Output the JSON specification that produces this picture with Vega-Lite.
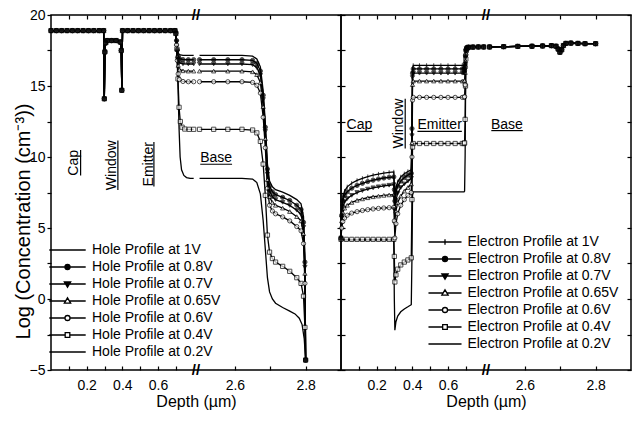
{
"$schema":"https://vega.github.io/schema/vega-lite/v6.json",
"padding":{"left":12,"top":7,"right":0,"bottom":0},
"spacing":0,
"bounds":"flush",
"config":{"font":"Liberation Sans","view":{"stroke":"black","strokeWidth":1.5},
"axis":{"domain":false,"grid":false,"labelFont":"Liberation Sans","labelFontSize":14,"labelColor":"black","tickColor":"black","tickWidth":1.2,"titleFont":"Liberation Sans","titleFontSize":16,"titleFontWeight":"normal","titleColor":"black","labelOverlap":false,"labelFlush":false}},
"datasets":{
"holes":[
{"bias":"1V","part":1,"depth":0,"logc":18.9},{"bias":"1V","part":1,"depth":0.03,"logc":18.9},{"bias":"1V","part":1,"depth":0.06,"logc":18.9},{"bias":"1V","part":1,"depth":0.09,"logc":18.9},{"bias":"1V","part":1,"depth":0.12,"logc":18.9},{"bias":"1V","part":1,"depth":0.15,"logc":18.9},{"bias":"1V","part":1,"depth":0.18,"logc":18.9},{"bias":"1V","part":1,"depth":0.21,"logc":18.9},{"bias":"1V","part":1,"depth":0.24,"logc":18.9},{"bias":"1V","part":1,"depth":0.27,"logc":18.9},{"bias":"1V","part":1,"depth":0.295,"logc":18.9},{"bias":"1V","part":1,"depth":0.299,"logc":14.1},{"bias":"1V","part":1,"depth":0.302,"logc":17.4},{"bias":"1V","part":1,"depth":0.307,"logc":18.05},{"bias":"1V","part":1,"depth":0.315,"logc":18.2},{"bias":"1V","part":1,"depth":0.34,"logc":18.2},{"bias":"1V","part":1,"depth":0.365,"logc":18.2},{"bias":"1V","part":1,"depth":0.388,"logc":18.1},{"bias":"1V","part":1,"depth":0.394,"logc":17.5},{"bias":"1V","part":1,"depth":0.397,"logc":14.7},{"bias":"1V","part":1,"depth":0.401,"logc":18.9},{"bias":"1V","part":1,"depth":0.43,"logc":18.9},{"bias":"1V","part":1,"depth":0.46,"logc":18.9},{"bias":"1V","part":1,"depth":0.49,"logc":18.9},{"bias":"1V","part":1,"depth":0.52,"logc":18.9},{"bias":"1V","part":1,"depth":0.55,"logc":18.9},{"bias":"1V","part":1,"depth":0.58,"logc":18.9},{"bias":"1V","part":1,"depth":0.61,"logc":18.9},{"bias":"1V","part":1,"depth":0.64,"logc":18.9},{"bias":"1V","part":1,"depth":0.67,"logc":18.9},{"bias":"1V","part":1,"depth":0.695,"logc":18.9},
{"bias":"1V","part":1,"depth":0.7,"logc":18.75},{"bias":"1V","part":1,"depth":0.704,"logc":18.3},{"bias":"1V","part":1,"depth":0.708,"logc":17.7},{"bias":"1V","part":1,"depth":0.713,"logc":17.35},{"bias":"1V","part":1,"depth":0.72,"logc":17.2},{"bias":"1V","part":1,"depth":0.74,"logc":17.15},{"bias":"1V","part":1,"depth":0.77,"logc":17.15},{"bias":"1V","part":1,"depth":0.8,"logc":17.15},
{"bias":"1V","part":2,"depth":2.5,"logc":17.15},{"bias":"1V","part":2,"depth":2.54,"logc":17.15},{"bias":"1V","part":2,"depth":2.58,"logc":17.15},{"bias":"1V","part":2,"depth":2.62,"logc":17.15},{"bias":"1V","part":2,"depth":2.65,"logc":17.1},{"bias":"1V","part":2,"depth":2.662,"logc":16.9},{"bias":"1V","part":2,"depth":2.672,"logc":16.35},{"bias":"1V","part":2,"depth":2.68,"logc":14.65},{"bias":"1V","part":2,"depth":2.686,"logc":12.4},{"bias":"1V","part":2,"depth":2.692,"logc":9.5},{"bias":"1V","part":2,"depth":2.698,"logc":8.3},{"bias":"1V","part":2,"depth":2.706,"logc":7.9},{"bias":"1V","part":2,"depth":2.715,"logc":7.7},{"bias":"1V","part":2,"depth":2.735,"logc":7.52},{"bias":"1V","part":2,"depth":2.755,"logc":7.3},{"bias":"1V","part":2,"depth":2.775,"logc":7.0},{"bias":"1V","part":2,"depth":2.787,"logc":6.7},{"bias":"1V","part":2,"depth":2.794,"logc":5.8},{"bias":"1V","part":2,"depth":2.798,"logc":3.0},{"bias":"1V","part":2,"depth":2.8,"logc":-4.3},
{"bias":"0.8V","part":1,"depth":0,"logc":18.9},{"bias":"0.8V","part":1,"depth":0.03,"logc":18.9},{"bias":"0.8V","part":1,"depth":0.06,"logc":18.9},{"bias":"0.8V","part":1,"depth":0.09,"logc":18.9},{"bias":"0.8V","part":1,"depth":0.12,"logc":18.9},{"bias":"0.8V","part":1,"depth":0.15,"logc":18.9},{"bias":"0.8V","part":1,"depth":0.18,"logc":18.9},{"bias":"0.8V","part":1,"depth":0.21,"logc":18.9},{"bias":"0.8V","part":1,"depth":0.24,"logc":18.9},{"bias":"0.8V","part":1,"depth":0.27,"logc":18.9},{"bias":"0.8V","part":1,"depth":0.295,"logc":18.9},{"bias":"0.8V","part":1,"depth":0.299,"logc":14.1},{"bias":"0.8V","part":1,"depth":0.302,"logc":17.4},{"bias":"0.8V","part":1,"depth":0.307,"logc":18.05},{"bias":"0.8V","part":1,"depth":0.315,"logc":18.2},{"bias":"0.8V","part":1,"depth":0.34,"logc":18.2},{"bias":"0.8V","part":1,"depth":0.365,"logc":18.2},{"bias":"0.8V","part":1,"depth":0.388,"logc":18.1},{"bias":"0.8V","part":1,"depth":0.394,"logc":17.5},{"bias":"0.8V","part":1,"depth":0.397,"logc":14.7},{"bias":"0.8V","part":1,"depth":0.401,"logc":18.9},{"bias":"0.8V","part":1,"depth":0.43,"logc":18.9},{"bias":"0.8V","part":1,"depth":0.46,"logc":18.9},{"bias":"0.8V","part":1,"depth":0.49,"logc":18.9},{"bias":"0.8V","part":1,"depth":0.52,"logc":18.9},{"bias":"0.8V","part":1,"depth":0.55,"logc":18.9},{"bias":"0.8V","part":1,"depth":0.58,"logc":18.9},{"bias":"0.8V","part":1,"depth":0.61,"logc":18.9},{"bias":"0.8V","part":1,"depth":0.64,"logc":18.9},{"bias":"0.8V","part":1,"depth":0.67,"logc":18.9},{"bias":"0.8V","part":1,"depth":0.695,"logc":18.9},
{"bias":"0.8V","part":1,"depth":0.7,"logc":18.75},{"bias":"0.8V","part":1,"depth":0.704,"logc":18.2},{"bias":"0.8V","part":1,"depth":0.708,"logc":17.55},{"bias":"0.8V","part":1,"depth":0.713,"logc":17.1},{"bias":"0.8V","part":1,"depth":0.72,"logc":16.92},{"bias":"0.8V","part":1,"depth":0.74,"logc":16.86},{"bias":"0.8V","part":1,"depth":0.77,"logc":16.85},{"bias":"0.8V","part":1,"depth":0.8,"logc":16.85},
{"bias":"0.8V","part":2,"depth":2.5,"logc":16.85},{"bias":"0.8V","part":2,"depth":2.54,"logc":16.85},{"bias":"0.8V","part":2,"depth":2.58,"logc":16.85},{"bias":"0.8V","part":2,"depth":2.62,"logc":16.85},{"bias":"0.8V","part":2,"depth":2.65,"logc":16.8},{"bias":"0.8V","part":2,"depth":2.662,"logc":16.6},{"bias":"0.8V","part":2,"depth":2.672,"logc":16.05},{"bias":"0.8V","part":2,"depth":2.68,"logc":14.35},{"bias":"0.8V","part":2,"depth":2.686,"logc":12.1},{"bias":"0.8V","part":2,"depth":2.692,"logc":9.15},{"bias":"0.8V","part":2,"depth":2.698,"logc":7.95},{"bias":"0.8V","part":2,"depth":2.706,"logc":7.55},{"bias":"0.8V","part":2,"depth":2.715,"logc":7.35},{"bias":"0.8V","part":2,"depth":2.735,"logc":7.16},{"bias":"0.8V","part":2,"depth":2.755,"logc":6.94},{"bias":"0.8V","part":2,"depth":2.775,"logc":6.6},{"bias":"0.8V","part":2,"depth":2.787,"logc":6.3},{"bias":"0.8V","part":2,"depth":2.794,"logc":5.4},{"bias":"0.8V","part":2,"depth":2.798,"logc":2.6},{"bias":"0.8V","part":2,"depth":2.8,"logc":-4.3},
{"bias":"0.7V","part":1,"depth":0,"logc":18.9},{"bias":"0.7V","part":1,"depth":0.03,"logc":18.9},{"bias":"0.7V","part":1,"depth":0.06,"logc":18.9},{"bias":"0.7V","part":1,"depth":0.09,"logc":18.9},{"bias":"0.7V","part":1,"depth":0.12,"logc":18.9},{"bias":"0.7V","part":1,"depth":0.15,"logc":18.9},{"bias":"0.7V","part":1,"depth":0.18,"logc":18.9},{"bias":"0.7V","part":1,"depth":0.21,"logc":18.9},{"bias":"0.7V","part":1,"depth":0.24,"logc":18.9},{"bias":"0.7V","part":1,"depth":0.27,"logc":18.9},{"bias":"0.7V","part":1,"depth":0.295,"logc":18.9},{"bias":"0.7V","part":1,"depth":0.299,"logc":14.1},{"bias":"0.7V","part":1,"depth":0.302,"logc":17.4},{"bias":"0.7V","part":1,"depth":0.307,"logc":18.05},{"bias":"0.7V","part":1,"depth":0.315,"logc":18.2},{"bias":"0.7V","part":1,"depth":0.34,"logc":18.2},{"bias":"0.7V","part":1,"depth":0.365,"logc":18.2},{"bias":"0.7V","part":1,"depth":0.388,"logc":18.1},{"bias":"0.7V","part":1,"depth":0.394,"logc":17.5},{"bias":"0.7V","part":1,"depth":0.397,"logc":14.7},{"bias":"0.7V","part":1,"depth":0.401,"logc":18.9},{"bias":"0.7V","part":1,"depth":0.43,"logc":18.9},{"bias":"0.7V","part":1,"depth":0.46,"logc":18.9},{"bias":"0.7V","part":1,"depth":0.49,"logc":18.9},{"bias":"0.7V","part":1,"depth":0.52,"logc":18.9},{"bias":"0.7V","part":1,"depth":0.55,"logc":18.9},{"bias":"0.7V","part":1,"depth":0.58,"logc":18.9},{"bias":"0.7V","part":1,"depth":0.61,"logc":18.9},{"bias":"0.7V","part":1,"depth":0.64,"logc":18.9},{"bias":"0.7V","part":1,"depth":0.67,"logc":18.9},{"bias":"0.7V","part":1,"depth":0.695,"logc":18.9},
{"bias":"0.7V","part":1,"depth":0.7,"logc":18.7},{"bias":"0.7V","part":1,"depth":0.704,"logc":18.1},{"bias":"0.7V","part":1,"depth":0.708,"logc":17.4},{"bias":"0.7V","part":1,"depth":0.713,"logc":16.85},{"bias":"0.7V","part":1,"depth":0.72,"logc":16.63},{"bias":"0.7V","part":1,"depth":0.74,"logc":16.56},{"bias":"0.7V","part":1,"depth":0.77,"logc":16.55},{"bias":"0.7V","part":1,"depth":0.8,"logc":16.55},
{"bias":"0.7V","part":2,"depth":2.5,"logc":16.55},{"bias":"0.7V","part":2,"depth":2.54,"logc":16.55},{"bias":"0.7V","part":2,"depth":2.58,"logc":16.55},{"bias":"0.7V","part":2,"depth":2.62,"logc":16.55},{"bias":"0.7V","part":2,"depth":2.65,"logc":16.5},{"bias":"0.7V","part":2,"depth":2.662,"logc":16.3},{"bias":"0.7V","part":2,"depth":2.672,"logc":15.75},{"bias":"0.7V","part":2,"depth":2.68,"logc":14.05},{"bias":"0.7V","part":2,"depth":2.686,"logc":11.8},{"bias":"0.7V","part":2,"depth":2.692,"logc":8.8},{"bias":"0.7V","part":2,"depth":2.698,"logc":7.6},{"bias":"0.7V","part":2,"depth":2.706,"logc":7.2},{"bias":"0.7V","part":2,"depth":2.715,"logc":7.0},{"bias":"0.7V","part":2,"depth":2.735,"logc":6.81},{"bias":"0.7V","part":2,"depth":2.755,"logc":6.59},{"bias":"0.7V","part":2,"depth":2.775,"logc":6.25},{"bias":"0.7V","part":2,"depth":2.787,"logc":5.95},{"bias":"0.7V","part":2,"depth":2.794,"logc":5.05},{"bias":"0.7V","part":2,"depth":2.798,"logc":2.25},{"bias":"0.7V","part":2,"depth":2.8,"logc":-4.3},
{"bias":"0.65V","part":1,"depth":0,"logc":18.9},{"bias":"0.65V","part":1,"depth":0.03,"logc":18.9},{"bias":"0.65V","part":1,"depth":0.06,"logc":18.9},{"bias":"0.65V","part":1,"depth":0.09,"logc":18.9},{"bias":"0.65V","part":1,"depth":0.12,"logc":18.9},{"bias":"0.65V","part":1,"depth":0.15,"logc":18.9},{"bias":"0.65V","part":1,"depth":0.18,"logc":18.9},{"bias":"0.65V","part":1,"depth":0.21,"logc":18.9},{"bias":"0.65V","part":1,"depth":0.24,"logc":18.9},{"bias":"0.65V","part":1,"depth":0.27,"logc":18.9},{"bias":"0.65V","part":1,"depth":0.295,"logc":18.9},{"bias":"0.65V","part":1,"depth":0.299,"logc":14.1},{"bias":"0.65V","part":1,"depth":0.302,"logc":17.4},{"bias":"0.65V","part":1,"depth":0.307,"logc":18.05},{"bias":"0.65V","part":1,"depth":0.315,"logc":18.2},{"bias":"0.65V","part":1,"depth":0.34,"logc":18.2},{"bias":"0.65V","part":1,"depth":0.365,"logc":18.2},{"bias":"0.65V","part":1,"depth":0.388,"logc":18.1},{"bias":"0.65V","part":1,"depth":0.394,"logc":17.5},{"bias":"0.65V","part":1,"depth":0.397,"logc":14.7},{"bias":"0.65V","part":1,"depth":0.401,"logc":18.9},{"bias":"0.65V","part":1,"depth":0.43,"logc":18.9},{"bias":"0.65V","part":1,"depth":0.46,"logc":18.9},{"bias":"0.65V","part":1,"depth":0.49,"logc":18.9},{"bias":"0.65V","part":1,"depth":0.52,"logc":18.9},{"bias":"0.65V","part":1,"depth":0.55,"logc":18.9},{"bias":"0.65V","part":1,"depth":0.58,"logc":18.9},{"bias":"0.65V","part":1,"depth":0.61,"logc":18.9},{"bias":"0.65V","part":1,"depth":0.64,"logc":18.9},{"bias":"0.65V","part":1,"depth":0.67,"logc":18.9},{"bias":"0.65V","part":1,"depth":0.695,"logc":18.9},
{"bias":"0.65V","part":1,"depth":0.7,"logc":18.7},{"bias":"0.65V","part":1,"depth":0.704,"logc":18.0},{"bias":"0.65V","part":1,"depth":0.708,"logc":17.1},{"bias":"0.65V","part":1,"depth":0.713,"logc":16.45},{"bias":"0.65V","part":1,"depth":0.72,"logc":16.17},{"bias":"0.65V","part":1,"depth":0.74,"logc":16.07},{"bias":"0.65V","part":1,"depth":0.77,"logc":16.05},{"bias":"0.65V","part":1,"depth":0.8,"logc":16.05},
{"bias":"0.65V","part":2,"depth":2.5,"logc":16.05},{"bias":"0.65V","part":2,"depth":2.54,"logc":16.05},{"bias":"0.65V","part":2,"depth":2.58,"logc":16.05},{"bias":"0.65V","part":2,"depth":2.62,"logc":16.05},{"bias":"0.65V","part":2,"depth":2.65,"logc":16.0},{"bias":"0.65V","part":2,"depth":2.662,"logc":15.8},{"bias":"0.65V","part":2,"depth":2.672,"logc":15.25},{"bias":"0.65V","part":2,"depth":2.68,"logc":13.55},{"bias":"0.65V","part":2,"depth":2.686,"logc":11.3},{"bias":"0.65V","part":2,"depth":2.692,"logc":8.4},{"bias":"0.65V","part":2,"depth":2.698,"logc":7.2},{"bias":"0.65V","part":2,"depth":2.706,"logc":6.8},{"bias":"0.65V","part":2,"depth":2.715,"logc":6.6},{"bias":"0.65V","part":2,"depth":2.735,"logc":6.4},{"bias":"0.65V","part":2,"depth":2.755,"logc":6.16},{"bias":"0.65V","part":2,"depth":2.775,"logc":5.8},{"bias":"0.65V","part":2,"depth":2.787,"logc":5.5},{"bias":"0.65V","part":2,"depth":2.794,"logc":4.6},{"bias":"0.65V","part":2,"depth":2.798,"logc":1.8},{"bias":"0.65V","part":2,"depth":2.8,"logc":-4.3},
{"bias":"0.6V","part":1,"depth":0,"logc":18.9},{"bias":"0.6V","part":1,"depth":0.03,"logc":18.9},{"bias":"0.6V","part":1,"depth":0.06,"logc":18.9},{"bias":"0.6V","part":1,"depth":0.09,"logc":18.9},{"bias":"0.6V","part":1,"depth":0.12,"logc":18.9},{"bias":"0.6V","part":1,"depth":0.15,"logc":18.9},{"bias":"0.6V","part":1,"depth":0.18,"logc":18.9},{"bias":"0.6V","part":1,"depth":0.21,"logc":18.9},{"bias":"0.6V","part":1,"depth":0.24,"logc":18.9},{"bias":"0.6V","part":1,"depth":0.27,"logc":18.9},{"bias":"0.6V","part":1,"depth":0.295,"logc":18.9},{"bias":"0.6V","part":1,"depth":0.299,"logc":14.1},{"bias":"0.6V","part":1,"depth":0.302,"logc":17.4},{"bias":"0.6V","part":1,"depth":0.307,"logc":18.05},{"bias":"0.6V","part":1,"depth":0.315,"logc":18.2},{"bias":"0.6V","part":1,"depth":0.34,"logc":18.2},{"bias":"0.6V","part":1,"depth":0.365,"logc":18.2},{"bias":"0.6V","part":1,"depth":0.388,"logc":18.1},{"bias":"0.6V","part":1,"depth":0.394,"logc":17.5},{"bias":"0.6V","part":1,"depth":0.397,"logc":14.7},{"bias":"0.6V","part":1,"depth":0.401,"logc":18.9},{"bias":"0.6V","part":1,"depth":0.43,"logc":18.9},{"bias":"0.6V","part":1,"depth":0.46,"logc":18.9},{"bias":"0.6V","part":1,"depth":0.49,"logc":18.9},{"bias":"0.6V","part":1,"depth":0.52,"logc":18.9},{"bias":"0.6V","part":1,"depth":0.55,"logc":18.9},{"bias":"0.6V","part":1,"depth":0.58,"logc":18.9},{"bias":"0.6V","part":1,"depth":0.61,"logc":18.9},{"bias":"0.6V","part":1,"depth":0.64,"logc":18.9},{"bias":"0.6V","part":1,"depth":0.67,"logc":18.9},{"bias":"0.6V","part":1,"depth":0.695,"logc":18.9},
{"bias":"0.6V","part":1,"depth":0.7,"logc":18.7},{"bias":"0.6V","part":1,"depth":0.704,"logc":17.9},{"bias":"0.6V","part":1,"depth":0.708,"logc":16.8},{"bias":"0.6V","part":1,"depth":0.713,"logc":15.85},{"bias":"0.6V","part":1,"depth":0.72,"logc":15.45},{"bias":"0.6V","part":1,"depth":0.74,"logc":15.32},{"bias":"0.6V","part":1,"depth":0.77,"logc":15.3},{"bias":"0.6V","part":1,"depth":0.8,"logc":15.3},
{"bias":"0.6V","part":2,"depth":2.5,"logc":15.3},{"bias":"0.6V","part":2,"depth":2.54,"logc":15.3},{"bias":"0.6V","part":2,"depth":2.58,"logc":15.3},{"bias":"0.6V","part":2,"depth":2.62,"logc":15.3},{"bias":"0.6V","part":2,"depth":2.65,"logc":15.25},{"bias":"0.6V","part":2,"depth":2.662,"logc":15.05},{"bias":"0.6V","part":2,"depth":2.672,"logc":14.5},{"bias":"0.6V","part":2,"depth":2.68,"logc":12.8},{"bias":"0.6V","part":2,"depth":2.686,"logc":10.65},{"bias":"0.6V","part":2,"depth":2.692,"logc":7.8},{"bias":"0.6V","part":2,"depth":2.698,"logc":6.6},{"bias":"0.6V","part":2,"depth":2.706,"logc":6.2},{"bias":"0.6V","part":2,"depth":2.715,"logc":6.0},{"bias":"0.6V","part":2,"depth":2.735,"logc":5.78},{"bias":"0.6V","part":2,"depth":2.755,"logc":5.5},{"bias":"0.6V","part":2,"depth":2.775,"logc":5.1},{"bias":"0.6V","part":2,"depth":2.787,"logc":4.8},{"bias":"0.6V","part":2,"depth":2.794,"logc":3.9},{"bias":"0.6V","part":2,"depth":2.798,"logc":1.1},{"bias":"0.6V","part":2,"depth":2.8,"logc":-4.3},
{"bias":"0.4V","part":1,"depth":0,"logc":18.9},{"bias":"0.4V","part":1,"depth":0.03,"logc":18.9},{"bias":"0.4V","part":1,"depth":0.06,"logc":18.9},{"bias":"0.4V","part":1,"depth":0.09,"logc":18.9},{"bias":"0.4V","part":1,"depth":0.12,"logc":18.9},{"bias":"0.4V","part":1,"depth":0.15,"logc":18.9},{"bias":"0.4V","part":1,"depth":0.18,"logc":18.9},{"bias":"0.4V","part":1,"depth":0.21,"logc":18.9},{"bias":"0.4V","part":1,"depth":0.24,"logc":18.9},{"bias":"0.4V","part":1,"depth":0.27,"logc":18.9},{"bias":"0.4V","part":1,"depth":0.295,"logc":18.9},{"bias":"0.4V","part":1,"depth":0.299,"logc":14.1},{"bias":"0.4V","part":1,"depth":0.302,"logc":17.4},{"bias":"0.4V","part":1,"depth":0.307,"logc":18.05},{"bias":"0.4V","part":1,"depth":0.315,"logc":18.2},{"bias":"0.4V","part":1,"depth":0.34,"logc":18.2},{"bias":"0.4V","part":1,"depth":0.365,"logc":18.2},{"bias":"0.4V","part":1,"depth":0.388,"logc":18.1},{"bias":"0.4V","part":1,"depth":0.394,"logc":17.5},{"bias":"0.4V","part":1,"depth":0.397,"logc":14.7},{"bias":"0.4V","part":1,"depth":0.401,"logc":18.9},{"bias":"0.4V","part":1,"depth":0.43,"logc":18.9},{"bias":"0.4V","part":1,"depth":0.46,"logc":18.9},{"bias":"0.4V","part":1,"depth":0.49,"logc":18.9},{"bias":"0.4V","part":1,"depth":0.52,"logc":18.9},{"bias":"0.4V","part":1,"depth":0.55,"logc":18.9},{"bias":"0.4V","part":1,"depth":0.58,"logc":18.9},{"bias":"0.4V","part":1,"depth":0.61,"logc":18.9},{"bias":"0.4V","part":1,"depth":0.64,"logc":18.9},{"bias":"0.4V","part":1,"depth":0.67,"logc":18.9},{"bias":"0.4V","part":1,"depth":0.695,"logc":18.9},
{"bias":"0.4V","part":1,"depth":0.7,"logc":18.7},{"bias":"0.4V","part":1,"depth":0.706,"logc":17.6},{"bias":"0.4V","part":1,"depth":0.712,"logc":15.5},{"bias":"0.4V","part":1,"depth":0.718,"logc":13.5},{"bias":"0.4V","part":1,"depth":0.725,"logc":12.5},{"bias":"0.4V","part":1,"depth":0.735,"logc":12.1},{"bias":"0.4V","part":1,"depth":0.75,"logc":11.97},{"bias":"0.4V","part":1,"depth":0.775,"logc":11.95},{"bias":"0.4V","part":1,"depth":0.8,"logc":11.95},
{"bias":"0.4V","part":2,"depth":2.5,"logc":11.95},{"bias":"0.4V","part":2,"depth":2.54,"logc":11.95},{"bias":"0.4V","part":2,"depth":2.58,"logc":11.95},{"bias":"0.4V","part":2,"depth":2.62,"logc":11.95},{"bias":"0.4V","part":2,"depth":2.65,"logc":11.9},{"bias":"0.4V","part":2,"depth":2.662,"logc":11.7},{"bias":"0.4V","part":2,"depth":2.672,"logc":11.1},{"bias":"0.4V","part":2,"depth":2.68,"logc":9.5},{"bias":"0.4V","part":2,"depth":2.686,"logc":7.3},{"bias":"0.4V","part":2,"depth":2.692,"logc":4.5},{"bias":"0.4V","part":2,"depth":2.698,"logc":3.3},{"bias":"0.4V","part":2,"depth":2.706,"logc":2.85},{"bias":"0.4V","part":2,"depth":2.715,"logc":2.6},{"bias":"0.4V","part":2,"depth":2.735,"logc":2.3},{"bias":"0.4V","part":2,"depth":2.755,"logc":1.95},{"bias":"0.4V","part":2,"depth":2.775,"logc":1.5},{"bias":"0.4V","part":2,"depth":2.787,"logc":1.1},{"bias":"0.4V","part":2,"depth":2.794,"logc":0.2},{"bias":"0.4V","part":2,"depth":2.798,"logc":-2.0},{"bias":"0.4V","part":2,"depth":2.8,"logc":-4.3},
{"bias":"0.2V","part":1,"depth":0,"logc":18.9},{"bias":"0.2V","part":1,"depth":0.03,"logc":18.9},{"bias":"0.2V","part":1,"depth":0.06,"logc":18.9},{"bias":"0.2V","part":1,"depth":0.09,"logc":18.9},{"bias":"0.2V","part":1,"depth":0.12,"logc":18.9},{"bias":"0.2V","part":1,"depth":0.15,"logc":18.9},{"bias":"0.2V","part":1,"depth":0.18,"logc":18.9},{"bias":"0.2V","part":1,"depth":0.21,"logc":18.9},{"bias":"0.2V","part":1,"depth":0.24,"logc":18.9},{"bias":"0.2V","part":1,"depth":0.27,"logc":18.9},{"bias":"0.2V","part":1,"depth":0.295,"logc":18.9},{"bias":"0.2V","part":1,"depth":0.299,"logc":14.1},{"bias":"0.2V","part":1,"depth":0.302,"logc":17.4},{"bias":"0.2V","part":1,"depth":0.307,"logc":18.05},{"bias":"0.2V","part":1,"depth":0.315,"logc":18.2},{"bias":"0.2V","part":1,"depth":0.34,"logc":18.2},{"bias":"0.2V","part":1,"depth":0.365,"logc":18.2},{"bias":"0.2V","part":1,"depth":0.388,"logc":18.1},{"bias":"0.2V","part":1,"depth":0.394,"logc":17.5},{"bias":"0.2V","part":1,"depth":0.397,"logc":14.7},{"bias":"0.2V","part":1,"depth":0.401,"logc":18.9},{"bias":"0.2V","part":1,"depth":0.43,"logc":18.9},{"bias":"0.2V","part":1,"depth":0.46,"logc":18.9},{"bias":"0.2V","part":1,"depth":0.49,"logc":18.9},{"bias":"0.2V","part":1,"depth":0.52,"logc":18.9},{"bias":"0.2V","part":1,"depth":0.55,"logc":18.9},{"bias":"0.2V","part":1,"depth":0.58,"logc":18.9},{"bias":"0.2V","part":1,"depth":0.61,"logc":18.9},{"bias":"0.2V","part":1,"depth":0.64,"logc":18.9},{"bias":"0.2V","part":1,"depth":0.67,"logc":18.9},{"bias":"0.2V","part":1,"depth":0.695,"logc":18.9},
{"bias":"0.2V","part":1,"depth":0.7,"logc":18.7},{"bias":"0.2V","part":1,"depth":0.706,"logc":17.5},{"bias":"0.2V","part":1,"depth":0.712,"logc":15.0},{"bias":"0.2V","part":1,"depth":0.718,"logc":12.0},{"bias":"0.2V","part":1,"depth":0.724,"logc":10.0},{"bias":"0.2V","part":1,"depth":0.732,"logc":9.1},{"bias":"0.2V","part":1,"depth":0.745,"logc":8.7},{"bias":"0.2V","part":1,"depth":0.76,"logc":8.55},{"bias":"0.2V","part":1,"depth":0.78,"logc":8.5},{"bias":"0.2V","part":1,"depth":0.8,"logc":8.5},
{"bias":"0.2V","part":2,"depth":2.5,"logc":8.5},{"bias":"0.2V","part":2,"depth":2.54,"logc":8.5},{"bias":"0.2V","part":2,"depth":2.58,"logc":8.5},{"bias":"0.2V","part":2,"depth":2.62,"logc":8.5},{"bias":"0.2V","part":2,"depth":2.65,"logc":8.45},{"bias":"0.2V","part":2,"depth":2.662,"logc":8.2},{"bias":"0.2V","part":2,"depth":2.672,"logc":7.4},{"bias":"0.2V","part":2,"depth":2.68,"logc":5.5},{"bias":"0.2V","part":2,"depth":2.686,"logc":3.5},{"bias":"0.2V","part":2,"depth":2.692,"logc":1.5},{"bias":"0.2V","part":2,"depth":2.698,"logc":0.5},{"bias":"0.2V","part":2,"depth":2.706,"logc":0.0},{"bias":"0.2V","part":2,"depth":2.715,"logc":-0.3},{"bias":"0.2V","part":2,"depth":2.735,"logc":-0.6},{"bias":"0.2V","part":2,"depth":2.755,"logc":-0.85},{"bias":"0.2V","part":2,"depth":2.77,"logc":-1.05},{"bias":"0.2V","part":2,"depth":2.782,"logc":-1.35},{"bias":"0.2V","part":2,"depth":2.79,"logc":-1.8},{"bias":"0.2V","part":2,"depth":2.796,"logc":-2.8},{"bias":"0.2V","part":2,"depth":2.8,"logc":-4.3}
],
"electrons":[
{"bias":"1V","part":1,"depth":0,"logc":4.3},{"bias":"1V","part":1,"depth":0.004,"logc":6.0},{"bias":"1V","part":1,"depth":0.01,"logc":7.1},{"bias":"1V","part":1,"depth":0.02,"logc":7.6},{"bias":"1V","part":1,"depth":0.035,"logc":7.9},{"bias":"1V","part":1,"depth":0.06,"logc":8.15},{"bias":"1V","part":1,"depth":0.09,"logc":8.35},{"bias":"1V","part":1,"depth":0.12,"logc":8.5},{"bias":"1V","part":1,"depth":0.15,"logc":8.62},{"bias":"1V","part":1,"depth":0.18,"logc":8.72},{"bias":"1V","part":1,"depth":0.21,"logc":8.8},{"bias":"1V","part":1,"depth":0.24,"logc":8.87},{"bias":"1V","part":1,"depth":0.27,"logc":8.92},{"bias":"1V","part":1,"depth":0.296,"logc":8.95},
{"bias":"1V","part":1,"depth":0.299,"logc":8.0},{"bias":"1V","part":1,"depth":0.302,"logc":7.3},{"bias":"1V","part":1,"depth":0.308,"logc":7.8},{"bias":"1V","part":1,"depth":0.318,"logc":8.25},{"bias":"1V","part":1,"depth":0.335,"logc":8.6},{"bias":"1V","part":1,"depth":0.355,"logc":8.82},{"bias":"1V","part":1,"depth":0.375,"logc":8.98},{"bias":"1V","part":1,"depth":0.394,"logc":9.1},{"bias":"1V","part":1,"depth":0.398,"logc":12.0},{"bias":"1V","part":1,"depth":0.401,"logc":16.2},{"bias":"1V","part":1,"depth":0.405,"logc":16.45},
{"bias":"1V","part":1,"depth":0.44,"logc":16.45},{"bias":"1V","part":1,"depth":0.48,"logc":16.45},{"bias":"1V","part":1,"depth":0.52,"logc":16.45},{"bias":"1V","part":1,"depth":0.56,"logc":16.45},{"bias":"1V","part":1,"depth":0.6,"logc":16.45},{"bias":"1V","part":1,"depth":0.64,"logc":16.45},{"bias":"1V","part":1,"depth":0.68,"logc":16.45},{"bias":"1V","part":1,"depth":0.69,"logc":16.45},
{"bias":"1V","part":1,"depth":0.693,"logc":16.5},{"bias":"1V","part":1,"depth":0.696,"logc":16.77},{"bias":"1V","part":1,"depth":0.698,"logc":17.22},{"bias":"1V","part":1,"depth":0.7,"logc":17.6},{"bias":"1V","part":1,"depth":0.703,"logc":17.68},{"bias":"1V","part":1,"depth":0.708,"logc":17.71},{"bias":"1V","part":1,"depth":0.715,"logc":17.73},{"bias":"1V","part":1,"depth":0.74,"logc":17.74},{"bias":"1V","part":1,"depth":0.77,"logc":17.75},{"bias":"1V","part":1,"depth":0.8,"logc":17.75},
{"bias":"1V","part":2,"depth":2.5,"logc":17.75},{"bias":"1V","part":2,"depth":2.54,"logc":17.77},{"bias":"1V","part":2,"depth":2.58,"logc":17.79},{"bias":"1V","part":2,"depth":2.62,"logc":17.8},{"bias":"1V","part":2,"depth":2.65,"logc":17.82},{"bias":"1V","part":2,"depth":2.675,"logc":17.84},{"bias":"1V","part":2,"depth":2.688,"logc":17.8},{"bias":"1V","part":2,"depth":2.694,"logc":17.6},{"bias":"1V","part":2,"depth":2.699,"logc":17.38},{"bias":"1V","part":2,"depth":2.704,"logc":17.55},{"bias":"1V","part":2,"depth":2.709,"logc":17.85},{"bias":"1V","part":2,"depth":2.716,"logc":18.0},{"bias":"1V","part":2,"depth":2.73,"logc":18.02},{"bias":"1V","part":2,"depth":2.75,"logc":18.0},{"bias":"1V","part":2,"depth":2.77,"logc":17.98},{"bias":"1V","part":2,"depth":2.8,"logc":17.98},
{"bias":"0.8V","part":1,"depth":0,"logc":4.3},{"bias":"0.8V","part":1,"depth":0.004,"logc":5.9},{"bias":"0.8V","part":1,"depth":0.01,"logc":6.9},{"bias":"0.8V","part":1,"depth":0.02,"logc":7.3},{"bias":"0.8V","part":1,"depth":0.035,"logc":7.55},{"bias":"0.8V","part":1,"depth":0.06,"logc":7.8},{"bias":"0.8V","part":1,"depth":0.09,"logc":8.0},{"bias":"0.8V","part":1,"depth":0.12,"logc":8.15},{"bias":"0.8V","part":1,"depth":0.15,"logc":8.27},{"bias":"0.8V","part":1,"depth":0.18,"logc":8.37},{"bias":"0.8V","part":1,"depth":0.21,"logc":8.45},{"bias":"0.8V","part":1,"depth":0.24,"logc":8.52},{"bias":"0.8V","part":1,"depth":0.27,"logc":8.57},{"bias":"0.8V","part":1,"depth":0.296,"logc":8.6},
{"bias":"0.8V","part":1,"depth":0.299,"logc":7.7},{"bias":"0.8V","part":1,"depth":0.302,"logc":6.9},{"bias":"0.8V","part":1,"depth":0.308,"logc":7.5},{"bias":"0.8V","part":1,"depth":0.318,"logc":7.95},{"bias":"0.8V","part":1,"depth":0.335,"logc":8.3},{"bias":"0.8V","part":1,"depth":0.355,"logc":8.55},{"bias":"0.8V","part":1,"depth":0.375,"logc":8.72},{"bias":"0.8V","part":1,"depth":0.394,"logc":8.85},{"bias":"0.8V","part":1,"depth":0.398,"logc":12.0},{"bias":"0.8V","part":1,"depth":0.401,"logc":15.9},{"bias":"0.8V","part":1,"depth":0.405,"logc":16.2},
{"bias":"0.8V","part":1,"depth":0.44,"logc":16.2},{"bias":"0.8V","part":1,"depth":0.48,"logc":16.2},{"bias":"0.8V","part":1,"depth":0.52,"logc":16.2},{"bias":"0.8V","part":1,"depth":0.56,"logc":16.2},{"bias":"0.8V","part":1,"depth":0.6,"logc":16.2},{"bias":"0.8V","part":1,"depth":0.64,"logc":16.2},{"bias":"0.8V","part":1,"depth":0.68,"logc":16.2},{"bias":"0.8V","part":1,"depth":0.69,"logc":16.2},
{"bias":"0.8V","part":1,"depth":0.693,"logc":16.25},{"bias":"0.8V","part":1,"depth":0.696,"logc":16.58},{"bias":"0.8V","part":1,"depth":0.698,"logc":17.12},{"bias":"0.8V","part":1,"depth":0.7,"logc":17.5},{"bias":"0.8V","part":1,"depth":0.703,"logc":17.65},{"bias":"0.8V","part":1,"depth":0.708,"logc":17.7},{"bias":"0.8V","part":1,"depth":0.715,"logc":17.73},{"bias":"0.8V","part":1,"depth":0.74,"logc":17.74},{"bias":"0.8V","part":1,"depth":0.77,"logc":17.75},{"bias":"0.8V","part":1,"depth":0.8,"logc":17.75},
{"bias":"0.8V","part":2,"depth":2.5,"logc":17.75},{"bias":"0.8V","part":2,"depth":2.54,"logc":17.77},{"bias":"0.8V","part":2,"depth":2.58,"logc":17.79},{"bias":"0.8V","part":2,"depth":2.62,"logc":17.8},{"bias":"0.8V","part":2,"depth":2.65,"logc":17.82},{"bias":"0.8V","part":2,"depth":2.675,"logc":17.84},{"bias":"0.8V","part":2,"depth":2.688,"logc":17.8},{"bias":"0.8V","part":2,"depth":2.694,"logc":17.6},{"bias":"0.8V","part":2,"depth":2.699,"logc":17.38},{"bias":"0.8V","part":2,"depth":2.704,"logc":17.55},{"bias":"0.8V","part":2,"depth":2.709,"logc":17.85},{"bias":"0.8V","part":2,"depth":2.716,"logc":18.0},{"bias":"0.8V","part":2,"depth":2.73,"logc":18.02},{"bias":"0.8V","part":2,"depth":2.75,"logc":18.0},{"bias":"0.8V","part":2,"depth":2.77,"logc":17.98},{"bias":"0.8V","part":2,"depth":2.8,"logc":17.98},
{"bias":"0.7V","part":1,"depth":0,"logc":4.3},{"bias":"0.7V","part":1,"depth":0.004,"logc":5.7},{"bias":"0.7V","part":1,"depth":0.01,"logc":6.5},{"bias":"0.7V","part":1,"depth":0.02,"logc":6.85},{"bias":"0.7V","part":1,"depth":0.035,"logc":7.07},{"bias":"0.7V","part":1,"depth":0.06,"logc":7.3},{"bias":"0.7V","part":1,"depth":0.09,"logc":7.5},{"bias":"0.7V","part":1,"depth":0.12,"logc":7.63},{"bias":"0.7V","part":1,"depth":0.15,"logc":7.74},{"bias":"0.7V","part":1,"depth":0.18,"logc":7.83},{"bias":"0.7V","part":1,"depth":0.21,"logc":7.9},{"bias":"0.7V","part":1,"depth":0.24,"logc":7.96},{"bias":"0.7V","part":1,"depth":0.27,"logc":8.01},{"bias":"0.7V","part":1,"depth":0.296,"logc":8.05},
{"bias":"0.7V","part":1,"depth":0.299,"logc":7.2},{"bias":"0.7V","part":1,"depth":0.302,"logc":6.3},{"bias":"0.7V","part":1,"depth":0.308,"logc":6.95},{"bias":"0.7V","part":1,"depth":0.318,"logc":7.45},{"bias":"0.7V","part":1,"depth":0.335,"logc":7.85},{"bias":"0.7V","part":1,"depth":0.355,"logc":8.1},{"bias":"0.7V","part":1,"depth":0.375,"logc":8.3},{"bias":"0.7V","part":1,"depth":0.394,"logc":8.5},{"bias":"0.7V","part":1,"depth":0.398,"logc":11.5},{"bias":"0.7V","part":1,"depth":0.401,"logc":15.6},{"bias":"0.7V","part":1,"depth":0.405,"logc":15.9},
{"bias":"0.7V","part":1,"depth":0.44,"logc":15.9},{"bias":"0.7V","part":1,"depth":0.48,"logc":15.9},{"bias":"0.7V","part":1,"depth":0.52,"logc":15.9},{"bias":"0.7V","part":1,"depth":0.56,"logc":15.9},{"bias":"0.7V","part":1,"depth":0.6,"logc":15.9},{"bias":"0.7V","part":1,"depth":0.64,"logc":15.9},{"bias":"0.7V","part":1,"depth":0.68,"logc":15.9},{"bias":"0.7V","part":1,"depth":0.69,"logc":15.9},
{"bias":"0.7V","part":1,"depth":0.693,"logc":15.95},{"bias":"0.7V","part":1,"depth":0.696,"logc":16.36},{"bias":"0.7V","part":1,"depth":0.698,"logc":17.0},{"bias":"0.7V","part":1,"depth":0.7,"logc":17.45},{"bias":"0.7V","part":1,"depth":0.703,"logc":17.63},{"bias":"0.7V","part":1,"depth":0.708,"logc":17.7},{"bias":"0.7V","part":1,"depth":0.715,"logc":17.73},{"bias":"0.7V","part":1,"depth":0.74,"logc":17.74},{"bias":"0.7V","part":1,"depth":0.77,"logc":17.75},{"bias":"0.7V","part":1,"depth":0.8,"logc":17.75},
{"bias":"0.7V","part":2,"depth":2.5,"logc":17.75},{"bias":"0.7V","part":2,"depth":2.54,"logc":17.77},{"bias":"0.7V","part":2,"depth":2.58,"logc":17.79},{"bias":"0.7V","part":2,"depth":2.62,"logc":17.8},{"bias":"0.7V","part":2,"depth":2.65,"logc":17.82},{"bias":"0.7V","part":2,"depth":2.675,"logc":17.84},{"bias":"0.7V","part":2,"depth":2.688,"logc":17.8},{"bias":"0.7V","part":2,"depth":2.694,"logc":17.6},{"bias":"0.7V","part":2,"depth":2.699,"logc":17.38},{"bias":"0.7V","part":2,"depth":2.704,"logc":17.55},{"bias":"0.7V","part":2,"depth":2.709,"logc":17.85},{"bias":"0.7V","part":2,"depth":2.716,"logc":18.0},{"bias":"0.7V","part":2,"depth":2.73,"logc":18.02},{"bias":"0.7V","part":2,"depth":2.75,"logc":18.0},{"bias":"0.7V","part":2,"depth":2.77,"logc":17.98},{"bias":"0.7V","part":2,"depth":2.8,"logc":17.98},
{"bias":"0.65V","part":1,"depth":0,"logc":4.3},{"bias":"0.65V","part":1,"depth":0.004,"logc":5.5},{"bias":"0.65V","part":1,"depth":0.01,"logc":6.1},{"bias":"0.65V","part":1,"depth":0.02,"logc":6.4},{"bias":"0.65V","part":1,"depth":0.035,"logc":6.6},{"bias":"0.65V","part":1,"depth":0.06,"logc":6.8},{"bias":"0.65V","part":1,"depth":0.09,"logc":6.95},{"bias":"0.65V","part":1,"depth":0.12,"logc":7.05},{"bias":"0.65V","part":1,"depth":0.15,"logc":7.13},{"bias":"0.65V","part":1,"depth":0.18,"logc":7.2},{"bias":"0.65V","part":1,"depth":0.21,"logc":7.25},{"bias":"0.65V","part":1,"depth":0.24,"logc":7.3},{"bias":"0.65V","part":1,"depth":0.27,"logc":7.33},{"bias":"0.65V","part":1,"depth":0.296,"logc":7.35},
{"bias":"0.65V","part":1,"depth":0.299,"logc":6.5},{"bias":"0.65V","part":1,"depth":0.302,"logc":5.5},{"bias":"0.65V","part":1,"depth":0.308,"logc":6.2},{"bias":"0.65V","part":1,"depth":0.318,"logc":6.8},{"bias":"0.65V","part":1,"depth":0.335,"logc":7.25},{"bias":"0.65V","part":1,"depth":0.355,"logc":7.6},{"bias":"0.65V","part":1,"depth":0.375,"logc":7.85},{"bias":"0.65V","part":1,"depth":0.394,"logc":8.1},{"bias":"0.65V","part":1,"depth":0.398,"logc":11.0},{"bias":"0.65V","part":1,"depth":0.401,"logc":15.1},{"bias":"0.65V","part":1,"depth":0.405,"logc":15.35},
{"bias":"0.65V","part":1,"depth":0.44,"logc":15.35},{"bias":"0.65V","part":1,"depth":0.48,"logc":15.35},{"bias":"0.65V","part":1,"depth":0.52,"logc":15.35},{"bias":"0.65V","part":1,"depth":0.56,"logc":15.35},{"bias":"0.65V","part":1,"depth":0.6,"logc":15.35},{"bias":"0.65V","part":1,"depth":0.64,"logc":15.35},{"bias":"0.65V","part":1,"depth":0.68,"logc":15.35},{"bias":"0.65V","part":1,"depth":0.69,"logc":15.35},
{"bias":"0.65V","part":1,"depth":0.693,"logc":15.4},{"bias":"0.65V","part":1,"depth":0.696,"logc":15.95},{"bias":"0.65V","part":1,"depth":0.698,"logc":16.78},{"bias":"0.65V","part":1,"depth":0.7,"logc":17.35},{"bias":"0.65V","part":1,"depth":0.703,"logc":17.6},{"bias":"0.65V","part":1,"depth":0.708,"logc":17.7},{"bias":"0.65V","part":1,"depth":0.715,"logc":17.73},{"bias":"0.65V","part":1,"depth":0.74,"logc":17.74},{"bias":"0.65V","part":1,"depth":0.77,"logc":17.75},{"bias":"0.65V","part":1,"depth":0.8,"logc":17.75},
{"bias":"0.65V","part":2,"depth":2.5,"logc":17.75},{"bias":"0.65V","part":2,"depth":2.54,"logc":17.77},{"bias":"0.65V","part":2,"depth":2.58,"logc":17.79},{"bias":"0.65V","part":2,"depth":2.62,"logc":17.8},{"bias":"0.65V","part":2,"depth":2.65,"logc":17.82},{"bias":"0.65V","part":2,"depth":2.675,"logc":17.84},{"bias":"0.65V","part":2,"depth":2.688,"logc":17.8},{"bias":"0.65V","part":2,"depth":2.694,"logc":17.6},{"bias":"0.65V","part":2,"depth":2.699,"logc":17.38},{"bias":"0.65V","part":2,"depth":2.704,"logc":17.55},{"bias":"0.65V","part":2,"depth":2.709,"logc":17.85},{"bias":"0.65V","part":2,"depth":2.716,"logc":18.0},{"bias":"0.65V","part":2,"depth":2.73,"logc":18.02},{"bias":"0.65V","part":2,"depth":2.75,"logc":18.0},{"bias":"0.65V","part":2,"depth":2.77,"logc":17.98},{"bias":"0.65V","part":2,"depth":2.8,"logc":17.98},
{"bias":"0.6V","part":1,"depth":0,"logc":4.25},{"bias":"0.6V","part":1,"depth":0.004,"logc":5.0},{"bias":"0.6V","part":1,"depth":0.01,"logc":5.45},{"bias":"0.6V","part":1,"depth":0.02,"logc":5.7},{"bias":"0.6V","part":1,"depth":0.035,"logc":5.9},{"bias":"0.6V","part":1,"depth":0.06,"logc":6.05},{"bias":"0.6V","part":1,"depth":0.09,"logc":6.15},{"bias":"0.6V","part":1,"depth":0.12,"logc":6.23},{"bias":"0.6V","part":1,"depth":0.15,"logc":6.29},{"bias":"0.6V","part":1,"depth":0.18,"logc":6.34},{"bias":"0.6V","part":1,"depth":0.21,"logc":6.38},{"bias":"0.6V","part":1,"depth":0.24,"logc":6.41},{"bias":"0.6V","part":1,"depth":0.27,"logc":6.43},{"bias":"0.6V","part":1,"depth":0.296,"logc":6.45},
{"bias":"0.6V","part":1,"depth":0.299,"logc":5.5},{"bias":"0.6V","part":1,"depth":0.302,"logc":4.3},{"bias":"0.6V","part":1,"depth":0.308,"logc":5.3},{"bias":"0.6V","part":1,"depth":0.318,"logc":6.0},{"bias":"0.6V","part":1,"depth":0.335,"logc":6.6},{"bias":"0.6V","part":1,"depth":0.355,"logc":7.0},{"bias":"0.6V","part":1,"depth":0.375,"logc":7.3},{"bias":"0.6V","part":1,"depth":0.394,"logc":7.5},{"bias":"0.6V","part":1,"depth":0.398,"logc":10.0},{"bias":"0.6V","part":1,"depth":0.401,"logc":14.0},{"bias":"0.6V","part":1,"depth":0.405,"logc":14.2},
{"bias":"0.6V","part":1,"depth":0.44,"logc":14.2},{"bias":"0.6V","part":1,"depth":0.48,"logc":14.2},{"bias":"0.6V","part":1,"depth":0.52,"logc":14.2},{"bias":"0.6V","part":1,"depth":0.56,"logc":14.2},{"bias":"0.6V","part":1,"depth":0.6,"logc":14.2},{"bias":"0.6V","part":1,"depth":0.64,"logc":14.2},{"bias":"0.6V","part":1,"depth":0.68,"logc":14.2},{"bias":"0.6V","part":1,"depth":0.69,"logc":14.2},
{"bias":"0.6V","part":1,"depth":0.693,"logc":14.25},{"bias":"0.6V","part":1,"depth":0.696,"logc":15.08},{"bias":"0.6V","part":1,"depth":0.698,"logc":16.32},{"bias":"0.6V","part":1,"depth":0.7,"logc":17.2},{"bias":"0.6V","part":1,"depth":0.703,"logc":17.55},{"bias":"0.6V","part":1,"depth":0.708,"logc":17.68},{"bias":"0.6V","part":1,"depth":0.715,"logc":17.73},{"bias":"0.6V","part":1,"depth":0.74,"logc":17.74},{"bias":"0.6V","part":1,"depth":0.77,"logc":17.75},{"bias":"0.6V","part":1,"depth":0.8,"logc":17.75},
{"bias":"0.6V","part":2,"depth":2.5,"logc":17.75},{"bias":"0.6V","part":2,"depth":2.54,"logc":17.77},{"bias":"0.6V","part":2,"depth":2.58,"logc":17.79},{"bias":"0.6V","part":2,"depth":2.62,"logc":17.8},{"bias":"0.6V","part":2,"depth":2.65,"logc":17.82},{"bias":"0.6V","part":2,"depth":2.675,"logc":17.84},{"bias":"0.6V","part":2,"depth":2.688,"logc":17.8},{"bias":"0.6V","part":2,"depth":2.694,"logc":17.6},{"bias":"0.6V","part":2,"depth":2.699,"logc":17.38},{"bias":"0.6V","part":2,"depth":2.704,"logc":17.55},{"bias":"0.6V","part":2,"depth":2.709,"logc":17.85},{"bias":"0.6V","part":2,"depth":2.716,"logc":18.0},{"bias":"0.6V","part":2,"depth":2.73,"logc":18.02},{"bias":"0.6V","part":2,"depth":2.75,"logc":18.0},{"bias":"0.6V","part":2,"depth":2.77,"logc":17.98},{"bias":"0.6V","part":2,"depth":2.8,"logc":17.98},
{"bias":"0.4V","part":1,"depth":0,"logc":4.2},{"bias":"0.4V","part":1,"depth":0.03,"logc":4.2},{"bias":"0.4V","part":1,"depth":0.06,"logc":4.2},{"bias":"0.4V","part":1,"depth":0.09,"logc":4.2},{"bias":"0.4V","part":1,"depth":0.12,"logc":4.2},{"bias":"0.4V","part":1,"depth":0.15,"logc":4.2},{"bias":"0.4V","part":1,"depth":0.18,"logc":4.2},{"bias":"0.4V","part":1,"depth":0.21,"logc":4.2},{"bias":"0.4V","part":1,"depth":0.24,"logc":4.2},{"bias":"0.4V","part":1,"depth":0.27,"logc":4.2},{"bias":"0.4V","part":1,"depth":0.296,"logc":4.2},
{"bias":"0.4V","part":1,"depth":0.299,"logc":3.0},{"bias":"0.4V","part":1,"depth":0.302,"logc":1.2},{"bias":"0.4V","part":1,"depth":0.308,"logc":1.7},{"bias":"0.4V","part":1,"depth":0.318,"logc":2.1},{"bias":"0.4V","part":1,"depth":0.335,"logc":2.4},{"bias":"0.4V","part":1,"depth":0.355,"logc":2.6},{"bias":"0.4V","part":1,"depth":0.375,"logc":2.75},{"bias":"0.4V","part":1,"depth":0.394,"logc":2.9},{"bias":"0.4V","part":1,"depth":0.398,"logc":7.0},{"bias":"0.4V","part":1,"depth":0.401,"logc":10.7},{"bias":"0.4V","part":1,"depth":0.405,"logc":10.95},
{"bias":"0.4V","part":1,"depth":0.44,"logc":10.95},{"bias":"0.4V","part":1,"depth":0.48,"logc":10.95},{"bias":"0.4V","part":1,"depth":0.52,"logc":10.95},{"bias":"0.4V","part":1,"depth":0.56,"logc":10.95},{"bias":"0.4V","part":1,"depth":0.6,"logc":10.95},{"bias":"0.4V","part":1,"depth":0.64,"logc":10.95},{"bias":"0.4V","part":1,"depth":0.68,"logc":10.95},{"bias":"0.4V","part":1,"depth":0.69,"logc":10.95},
{"bias":"0.4V","part":1,"depth":0.693,"logc":11.0},{"bias":"0.4V","part":1,"depth":0.696,"logc":12.65},{"bias":"0.4V","part":1,"depth":0.698,"logc":15.0},{"bias":"0.4V","part":1,"depth":0.7,"logc":16.9},{"bias":"0.4V","part":1,"depth":0.703,"logc":17.5},{"bias":"0.4V","part":1,"depth":0.708,"logc":17.67},{"bias":"0.4V","part":1,"depth":0.715,"logc":17.73},{"bias":"0.4V","part":1,"depth":0.74,"logc":17.74},{"bias":"0.4V","part":1,"depth":0.77,"logc":17.75},{"bias":"0.4V","part":1,"depth":0.8,"logc":17.75},
{"bias":"0.4V","part":2,"depth":2.5,"logc":17.75},{"bias":"0.4V","part":2,"depth":2.54,"logc":17.77},{"bias":"0.4V","part":2,"depth":2.58,"logc":17.79},{"bias":"0.4V","part":2,"depth":2.62,"logc":17.8},{"bias":"0.4V","part":2,"depth":2.65,"logc":17.82},{"bias":"0.4V","part":2,"depth":2.675,"logc":17.84},{"bias":"0.4V","part":2,"depth":2.688,"logc":17.8},{"bias":"0.4V","part":2,"depth":2.694,"logc":17.6},{"bias":"0.4V","part":2,"depth":2.699,"logc":17.38},{"bias":"0.4V","part":2,"depth":2.704,"logc":17.55},{"bias":"0.4V","part":2,"depth":2.709,"logc":17.85},{"bias":"0.4V","part":2,"depth":2.716,"logc":18.0},{"bias":"0.4V","part":2,"depth":2.73,"logc":18.02},{"bias":"0.4V","part":2,"depth":2.75,"logc":18.0},{"bias":"0.4V","part":2,"depth":2.77,"logc":17.98},{"bias":"0.4V","part":2,"depth":2.8,"logc":17.98},
{"bias":"0.2V","part":1,"depth":0,"logc":4.15},{"bias":"0.2V","part":1,"depth":0.15,"logc":4.15},{"bias":"0.2V","part":1,"depth":0.296,"logc":4.15},
{"bias":"0.2V","part":1,"depth":0.299,"logc":0.0},{"bias":"0.2V","part":1,"depth":0.302,"logc":-2.2},{"bias":"0.2V","part":1,"depth":0.308,"logc":-1.6},{"bias":"0.2V","part":1,"depth":0.318,"logc":-1.2},{"bias":"0.2V","part":1,"depth":0.335,"logc":-0.9},{"bias":"0.2V","part":1,"depth":0.355,"logc":-0.7},{"bias":"0.2V","part":1,"depth":0.375,"logc":-0.55},{"bias":"0.2V","part":1,"depth":0.394,"logc":-0.4},{"bias":"0.2V","part":1,"depth":0.398,"logc":3.0},{"bias":"0.2V","part":1,"depth":0.401,"logc":7.3},{"bias":"0.2V","part":1,"depth":0.405,"logc":7.55},
{"bias":"0.2V","part":1,"depth":0.55,"logc":7.55},{"bias":"0.2V","part":1,"depth":0.69,"logc":7.55},
{"bias":"0.2V","part":1,"depth":0.693,"logc":7.6},{"bias":"0.2V","part":1,"depth":0.696,"logc":10.1},{"bias":"0.2V","part":1,"depth":0.698,"logc":13.7},{"bias":"0.2V","part":1,"depth":0.7,"logc":16.7},{"bias":"0.2V","part":1,"depth":0.703,"logc":17.45},{"bias":"0.2V","part":1,"depth":0.708,"logc":17.66},{"bias":"0.2V","part":1,"depth":0.715,"logc":17.73},{"bias":"0.2V","part":1,"depth":0.8,"logc":17.75},
{"bias":"0.2V","part":2,"depth":2.5,"logc":17.75},{"bias":"0.2V","part":2,"depth":2.675,"logc":17.84},{"bias":"0.2V","part":2,"depth":2.688,"logc":17.8},{"bias":"0.2V","part":2,"depth":2.694,"logc":17.6},{"bias":"0.2V","part":2,"depth":2.699,"logc":17.38},{"bias":"0.2V","part":2,"depth":2.704,"logc":17.55},{"bias":"0.2V","part":2,"depth":2.709,"logc":17.85},{"bias":"0.2V","part":2,"depth":2.716,"logc":18.0},{"bias":"0.2V","part":2,"depth":2.8,"logc":17.98}
]
},
"hconcat":[
{
"width":290,"height":355,
"layer":[
{"data":{"name":"holes"},"mark":{"type":"line","stroke":"black","strokeWidth":1.3},
"encoding":{
"x":{"field":"depth","type":"quantitative","scale":{"domain":[0,0.813,2.49,2.9],"range":[0,145,145,290],"nice":false,"zero":false},"axis":{"orient":"bottom","values":[0.1,0.2,0.3,0.4,0.5,0.6,0.7,2.6,2.7,2.8],"format":".1f","labelExpr":"indexof([0.2,0.4,0.6,2.6,2.8], datum.value) >= 0 ? datum.label : ''","tickSize":-4,"labelPadding":12,"title":"Depth (µm)","titlePadding":1}},
"y":{"field":"logc","type":"quantitative","scale":{"domain":[-5,20],"nice":false,"zero":false},"axis":{"orient":"left","values":[-5,-2.5,0,2.5,5,7.5,10,12.5,15,17.5,20],"labelExpr":"datum.value % 5 == 0 ? datum.label : ''","tickSize":4,"labelPadding":2,"title":"Log (Concentration (cm⁻³))","titleFontSize":20,"titleX":-28,"titleY":206,"titleAlign":"center","titleBaseline":"middle","titleAngle":270}},
"detail":[{"field":"bias"},{"field":"part"}]}},
{"data":{"name":"holes"},"mark":{"type":"point","filled":true,"stroke":"black","strokeWidth":1,"size":18},
"encoding":{
"x":{"field":"depth","type":"quantitative","axis":{"orient":"top","values":[0.1,0.2,0.3,0.4,0.5,0.6,0.7,2.6,2.7,2.8],"labels":false,"tickSize":-4,"title":null}},
"y":{"field":"logc","type":"quantitative","axis":{"orient":"right","values":[-5,-2.5,0,2.5,5,7.5,10,12.5,15,17.5,20],"labels":false,"tickSize":-4,"title":null}},
"order":{"field":"bias","sort":"ascending"},
"shape":{"field":"bias","type":"nominal","scale":{"domain":["1V","0.8V","0.7V","0.65V","0.6V","0.4V","0.2V"],"range":["M0,0","circle","triangle-down","triangle-up","circle","square","M0,0"]},"legend":null},
"fill":{"field":"bias","type":"nominal","scale":{"domain":["1V","0.8V","0.7V","0.65V","0.6V","0.4V","0.2V"],"range":["black","black","black","white","white","white","black"]},"legend":null}}},
{"data":{"name":"holes"},"mark":{"type":"point","filled":true,"stroke":"black","strokeWidth":1.3,"opacity":0},
"encoding":{
"x":{"field":"depth","type":"quantitative","axis":null},
"y":{"field":"logc","type":"quantitative","axis":null},
"shape":{"field":"bias","type":"nominal","scale":{"domain":["1V","0.8V","0.7V","0.65V","0.6V","0.4V","0.2V"],"range":["M-2.6,0H2.6","M-2.6,0H2.6M-0.36,0A0.36,0.36,0,1,0,0.36,0A0.36,0.36,0,1,0,-0.36,0Z","M-2.6,0H2.6M-0.45,-0.3H0.45L0,0.45Z","M-2.6,0H-0.27M0.27,0H2.6M-0.45,0.3H0.45L0,-0.45Z","M-2.6,0H-0.36M0.36,0H2.6M-0.36,0A0.36,0.36,0,1,0,0.36,0A0.36,0.36,0,1,0,-0.36,0Z","M-2.6,0H-0.33M0.33,0H2.6M-0.33,-0.33H0.33V0.33H-0.33Z","M-2.6,0H2.6"]},
"legend":{"title":null,"orient":"none","legendX":8.5,"legendY":227,"symbolSize":196,"symbolOpacity":1,"symbolStrokeColor":"black","symbolStrokeWidth":1.3,"labelExpr":"'Hole Profile at ' + datum.label","labelFontSize":14,"labelColor":"black","labelOffset":16.5,"rowPadding":2,"padding":0,"labelLimit":400,"encode":{"symbols":{"update":{"stroke":{"value":"black"},"strokeWidth":{"value":1.3},"opacity":{"value":1}}}}}},
"fill":{"field":"bias","type":"nominal","scale":{"domain":["1V","0.8V","0.7V","0.65V","0.6V","0.4V","0.2V"],"range":["black","black","black","white","white","white","black"]},
"legend":{"title":null,"orient":"none","legendX":8.5,"legendY":227,"symbolSize":196,"symbolOpacity":1,"symbolStrokeColor":"black","symbolStrokeWidth":1.3,"labelExpr":"'Hole Profile at ' + datum.label","labelFontSize":14,"labelColor":"black","labelOffset":16.5,"rowPadding":2,"padding":0,"labelLimit":400,"encode":{"symbols":{"update":{"stroke":{"value":"black"},"strokeWidth":{"value":1.3},"opacity":{"value":1}}}}}}}},
{"data":{"values":[{"label":"Cap","depth":0.152,"logc":9.59},{"label":"Window","depth":0.365,"logc":9.42},{"label":"Emitter","depth":0.57,"logc":9.49}]},
"mark":{"type":"text","angle":270,"align":"center","baseline":"alphabetic","fontSize":14,"fill":"black"},
"encoding":{"x":{"field":"depth","type":"quantitative","axis":null},"y":{"field":"logc","type":"quantitative","axis":null},"text":{"field":"label"}}},
{"data":{"values":[{"label":"Base","depth":2.547,"logc":9.63}]},
"mark":{"type":"text","align":"center","baseline":"alphabetic","fontSize":14,"fill":"black"},
"encoding":{"x":{"field":"depth","type":"quantitative","axis":null},"y":{"field":"logc","type":"quantitative","axis":null},"text":{"field":"label"}}},
{"data":{"values":[{"depth":0.166,"low":8.69,"high":10.5},{"depth":0.375,"low":7.67,"high":11.17},{"depth":0.577,"low":7.93,"high":11.05}]},
"mark":{"type":"rule","stroke":"black","strokeWidth":1.2},
"encoding":{"x":{"field":"depth","type":"quantitative","axis":null},"y":{"field":"low","type":"quantitative","axis":null},"y2":{"field":"high"}}},
{"data":{"values":[{"from":2.502,"to":2.592,"logc":9.49}]},
"mark":{"type":"rule","stroke":"black","strokeWidth":1.2},
"encoding":{"x":{"field":"from","type":"quantitative","axis":null},"x2":{"field":"to"},"y":{"field":"logc","type":"quantitative","axis":null}}},
{"data":{"values":[{"depth":0.813,"logc":20},{"depth":0.813,"logc":-5}]},
"mark":{"type":"text","text":"//","align":"center","baseline":"middle","fontSize":15,"fontWeight":"bold","fill":"black"},
"encoding":{"x":{"field":"depth","type":"quantitative","axis":null},"y":{"field":"logc","type":"quantitative","axis":null}}}
],
"resolve":{"axis":{"x":"independent","y":"independent"},"scale":{"shape":"independent","fill":"independent"},"legend":{"shape":"independent","fill":"independent"}}
},
{
"width":290,"height":355,
"layer":[
{"data":{"name":"electrons"},"mark":{"type":"line","stroke":"black","strokeWidth":1.3},
"encoding":{
"x":{"field":"depth","type":"quantitative","scale":{"domain":[0,0.813,2.49,2.9],"range":[0,145,145,290],"nice":false,"zero":false},"axis":{"orient":"bottom","values":[0.1,0.2,0.3,0.4,0.5,0.6,0.7,2.6,2.7,2.8],"format":".1f","labelExpr":"indexof([0.2,0.4,0.6,2.6,2.8], datum.value) >= 0 ? datum.label : ''","tickSize":-4,"labelPadding":12,"title":"Depth (µm)","titlePadding":1}},
"y":{"field":"logc","type":"quantitative","scale":{"domain":[-5,20],"nice":false,"zero":false},"axis":{"orient":"left","values":[-5,-2.5,0,2.5,5,7.5,10,12.5,15,17.5,20],"labels":false,"tickSize":-4,"title":null}},
"detail":[{"field":"bias"},{"field":"part"}]}},
{"data":{"name":"electrons"},"mark":{"type":"point","filled":true,"stroke":"black","strokeWidth":1,"size":18},
"encoding":{
"x":{"field":"depth","type":"quantitative","axis":{"orient":"top","values":[0.1,0.2,0.3,0.4,0.5,0.6,0.7,2.6,2.7,2.8],"labels":false,"tickSize":-4,"title":null}},
"y":{"field":"logc","type":"quantitative","axis":{"orient":"right","values":[-5,-2.5,0,2.5,5,7.5,10,12.5,15,17.5,20],"labels":false,"tickSize":-4,"title":null}},
"order":{"field":"bias","sort":"ascending"},
"shape":{"field":"bias","type":"nominal","scale":{"domain":["1V","0.8V","0.7V","0.65V","0.6V","0.4V","0.2V"],"range":["M0,-1V1","circle","triangle-down","triangle-up","circle","square","M0,0"]},"legend":null},
"fill":{"field":"bias","type":"nominal","scale":{"domain":["1V","0.8V","0.7V","0.65V","0.6V","0.4V","0.2V"],"range":["black","black","black","white","white","white","black"]},"legend":null}}},
{"data":{"name":"electrons"},"mark":{"type":"point","filled":true,"stroke":"black","strokeWidth":1.3,"opacity":0},
"encoding":{
"x":{"field":"depth","type":"quantitative","axis":null},
"y":{"field":"logc","type":"quantitative","axis":null},
"shape":{"field":"bias","type":"nominal","scale":{"domain":["1V","0.8V","0.7V","0.65V","0.6V","0.4V","0.2V"],"range":["M-2.36,0H2.36M0,-0.4V0.4","M-2.36,0H2.36M-0.36,0A0.36,0.36,0,1,0,0.36,0A0.36,0.36,0,1,0,-0.36,0Z","M-2.36,0H2.36M-0.45,-0.3H0.45L0,0.45Z","M-2.36,0H-0.27M0.27,0H2.36M-0.45,0.3H0.45L0,-0.45Z","M-2.36,0H-0.36M0.36,0H2.36M-0.36,0A0.36,0.36,0,1,0,0.36,0A0.36,0.36,0,1,0,-0.36,0Z","M-2.36,0H-0.33M0.33,0H2.36M-0.33,-0.33H0.33V0.33H-0.33Z","M-2.36,0H2.36"]},
"legend":{"title":null,"orient":"none","legendX":96,"legendY":219,"symbolSize":196,"symbolOpacity":1,"symbolStrokeColor":"black","symbolStrokeWidth":1.3,"labelExpr":"'Electron Profile at ' + datum.label","labelFontSize":14,"labelColor":"black","labelOffset":14.4,"rowPadding":2,"padding":0,"labelLimit":400,"encode":{"symbols":{"update":{"stroke":{"value":"black"},"strokeWidth":{"value":1.3},"opacity":{"value":1}}}}}},
"fill":{"field":"bias","type":"nominal","scale":{"domain":["1V","0.8V","0.7V","0.65V","0.6V","0.4V","0.2V"],"range":["black","black","black","white","white","white","black"]},
"legend":{"title":null,"orient":"none","legendX":96,"legendY":219,"symbolSize":196,"symbolOpacity":1,"symbolStrokeColor":"black","symbolStrokeWidth":1.3,"labelExpr":"'Electron Profile at ' + datum.label","labelFontSize":14,"labelColor":"black","labelOffset":14.4,"rowPadding":2,"padding":0,"labelLimit":400,"encode":{"symbols":{"update":{"stroke":{"value":"black"},"strokeWidth":{"value":1.3},"opacity":{"value":1}}}}}}}},
{"data":{"values":[{"label":"Window","depth":0.345,"logc":12.35}]},
"mark":{"type":"text","angle":270,"align":"center","baseline":"alphabetic","fontSize":14,"fill":"black"},
"encoding":{"x":{"field":"depth","type":"quantitative","axis":null},"y":{"field":"logc","type":"quantitative","axis":null},"text":{"field":"label"}}},
{"data":{"values":[{"label":"Cap","depth":0.103,"logc":11.95},{"label":"Emitter","depth":0.553,"logc":11.95},{"label":"Base","depth":2.549,"logc":12.0}]},
"mark":{"type":"text","align":"center","baseline":"alphabetic","fontSize":14,"fill":"black"},
"encoding":{"x":{"field":"depth","type":"quantitative","axis":null},"y":{"field":"logc","type":"quantitative","axis":null},"text":{"field":"label"}}},
{"data":{"values":[{"depth":0.36,"low":10.6,"high":14.1}]},
"mark":{"type":"rule","stroke":"black","strokeWidth":1.2},
"encoding":{"x":{"field":"depth","type":"quantitative","axis":null},"y":{"field":"low","type":"quantitative","axis":null},"y2":{"field":"high"}}},
{"data":{"values":[{"from":0.031,"to":0.175,"logc":11.8},{"from":0.4285,"to":0.6775,"logc":11.8},{"from":2.505,"to":2.594,"logc":11.86}]},
"mark":{"type":"rule","stroke":"black","strokeWidth":1.2},
"encoding":{"x":{"field":"from","type":"quantitative","axis":null},"x2":{"field":"to"},"y":{"field":"logc","type":"quantitative","axis":null}}},
{"data":{"values":[{"depth":0.813,"logc":20},{"depth":0.813,"logc":-5}]},
"mark":{"type":"text","text":"//","align":"center","baseline":"middle","fontSize":15,"fontWeight":"bold","fill":"black"},
"encoding":{"x":{"field":"depth","type":"quantitative","axis":null},"y":{"field":"logc","type":"quantitative","axis":null}}}
],
"resolve":{"axis":{"x":"independent","y":"independent"},"scale":{"shape":"independent","fill":"independent"},"legend":{"shape":"independent","fill":"independent"}}
}
],
"resolve":{"scale":{"shape":"independent","fill":"independent"},"legend":{"shape":"independent","fill":"independent"}}
}
